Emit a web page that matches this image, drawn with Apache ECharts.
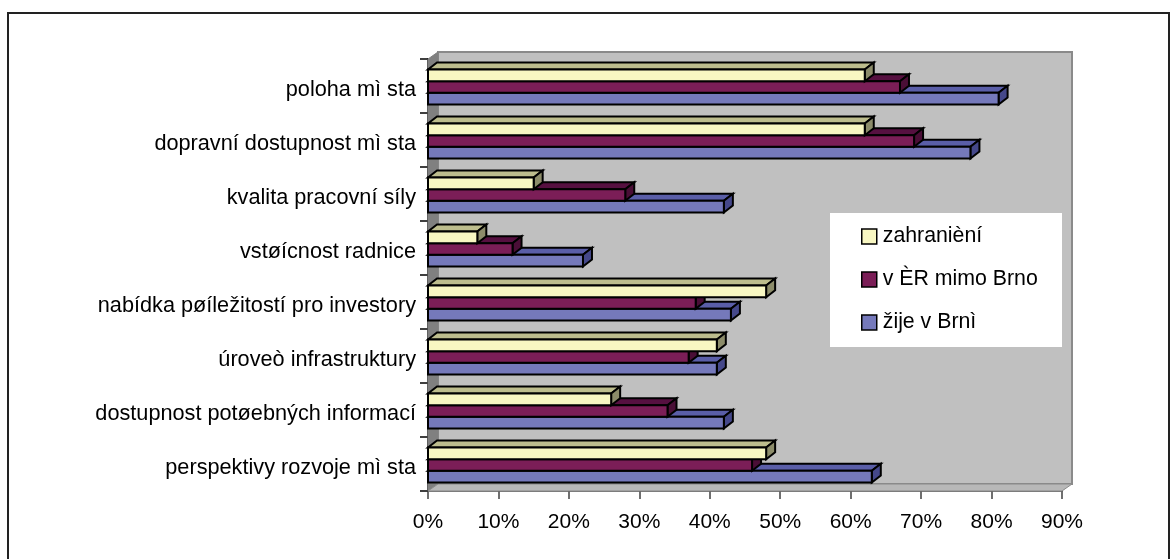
<!DOCTYPE html>
<html>
<head>
<meta charset="utf-8">
<script src="https://cdn.jsdelivr.net/npm/echarts@6/dist/echarts.min.js"></script>
<style>
  html, body { margin: 0; padding: 0; background: #fff; }
  #chart { width: 1171px; height: 559px; }
</style>
</head>
<body>
<div id="chart"></div>
<script>
// categories, top to bottom
var categories = [
    'poloha mì sta',
    'dopravní dostupnost mì sta',
    'kvalita pracovní síly',
    'vstøícnost radnice',
    'nabídka pøíležitostí pro investory',
    'úroveò infrastruktury',
    'dostupnost potøebných informací',
    'perspektivy rozvoje mì sta'
];

var seriesNames = ['zahranièní', 'v ÈR mimo Brno', 'žije v Brnì'];

// values in percent
var zahranicni = [62, 62, 15, 7, 48, 41, 26, 48];
var mimoBrno = [67, 69, 28, 12, 38, 37, 34, 46];
var vBrne = [81, 77, 42, 22, 43, 41, 42, 63];

var xTicks = [0, 10, 20, 30, 40, 50, 60, 70, 80, 90];

// front / top / side colours for each series
var faces = [
    { front: '#f8f7c2', top: '#bdbd8d', side: '#8c8c6a' },
    { front: '#7b1e57', top: '#561040', side: '#4a0e36' },
    { front: '#7579bb', top: '#5a5ea8', side: '#45488a' }
];

var FONT = "'Liberation Sans', Arial, sans-serif";
var DX = 9, DY = -7;

var chart = echarts.init(document.getElementById('chart'));

// draws one 3d bar; slot = position inside the category band (0 = top)
function barRenderer(slot, c) {
    return function (params, api) {
        var cat = api.value(1);
        var val = api.value(0);
        var base = api.coord([0, cat]);
        var end = api.coord([val, cat]);
        var band = api.size([0, 1])[1];
        var h = band * 0.215;
        var top = base[1] - 1.5 * h + 1 + slot * h;
        var x0 = base[0], x1 = end[0];
        var line = { stroke: '#000', lineWidth: 2, lineJoin: 'miter' };
        return {
            type: 'group',
            children: [
                {
                    type: 'polygon',
                    shape: { points: [[x0, top], [x0 + DX, top + DY], [x1 + DX, top + DY], [x1, top]] },
                    style: Object.assign({ fill: c.top }, line)
                },
                {
                    type: 'polygon',
                    shape: { points: [[x1, top], [x1 + DX, top + DY], [x1 + DX, top + h + DY], [x1, top + h]] },
                    style: Object.assign({ fill: c.side }, line)
                },
                {
                    type: 'rect',
                    shape: { x: x0, y: top, width: x1 - x0, height: h },
                    style: Object.assign({ fill: c.front }, line)
                }
            ]
        };
    };
}

// back wall, left wall and floor of the 3d plot area
function wallRenderer(params, api) {
    var cs = params.coordSys;
    var L = cs.x, T = cs.y, R = cs.x + cs.width, B = cs.y + cs.height;
    var wx = 10, wy = -7;
    return {
        type: 'group',
        children: [
            {
                type: 'rect',
                shape: { x: L + wx, y: T + wy, width: R - L, height: B - T },
                style: { fill: '#c0c0c0', stroke: '#8a8a8a', lineWidth: 2 }
            },
            {
                type: 'polygon',
                shape: { points: [[L, T], [L + wx, T + wy], [L + wx, B + wy], [L, B]] },
                style: { fill: '#808080', stroke: '#808080', lineWidth: 1 }
            },
            {
                type: 'polygon',
                shape: { points: [[L, B], [L + wx, B + wy], [R + wx, B + wy], [R, B]] },
                style: { fill: '#b8b8b8', stroke: '#8a8a8a', lineWidth: 1 }
            }
        ]
    };
}

function toData(vals) {
    return vals.map(function (v, i) { return [v, i]; });
}

var allValues = [zahranicni, mimoBrno, vBrne];

var series = [{
    type: 'custom',
    name: 'walls',
    renderItem: wallRenderer,
    data: [[0, 0]],
    silent: true,
    clip: false,
    z: 1
}];

// draw blue first, yellow last so upper bars cover the lower ones
for (var s = 2; s >= 0; s--) {
    series.push({
        type: 'custom',
        name: seriesNames[s],
        renderItem: barRenderer(s, faces[s]),
        itemStyle: { color: faces[s].front },
        data: toData(allValues[s]),
        clip: false,
        z: 5 + (2 - s)
    });
}

var option = {
    backgroundColor: '#fff',
    animation: false,
    textStyle: { fontFamily: FONT },
    grid: { left: 428, right: 109, top: 59, bottom: 68 },
    xAxis: {
        type: 'value',
        min: xTicks[0],
        max: xTicks[xTicks.length - 1],
        interval: 10,
        splitLine: { show: false },
        axisLine: { show: true, lineStyle: { color: '#404040', width: 1.5 } },
        axisTick: { show: true, length: 8, lineStyle: { color: '#404040', width: 1.5 } },
        axisLabel: {
            formatter: function (v) { return '{t|' + v + '%}'; },
            rich: { t: { color: '#000', fontSize: 21, fontFamily: FONT, padding: [4, 0, 0, 0] } },
            margin: 17
        }
    },
    yAxis: {
        type: 'category',
        inverse: true,
        data: categories,
        axisLine: { show: true, lineStyle: { color: '#000', width: 1.5 } },
        axisTick: { show: true, length: 8, lineStyle: { color: '#000', width: 1.5 } },
        axisLabel: {
            formatter: function (v) { return '{c|' + v + '}'; },
            rich: { c: { color: '#000', fontSize: 21.7, fontFamily: FONT, padding: [8, 0, 0, 0] } },
            margin: 12
        }
    },
    legend: {
        data: seriesNames,
        orient: 'vertical',
        left: 861,
        top: 226,
        itemWidth: 15,
        itemHeight: 15,
        itemGap: 22,
        icon: 'rect',
        padding: 0,
        itemStyle: { borderColor: '#000', borderWidth: 1.5 },
        textStyle: { color: '#000', fontSize: 21.3, fontFamily: FONT, padding: [0, 0, 0, 1] },
        z: 20
    },
    graphic: [
        // outer frame
        {
            type: 'rect',
            shape: { x: 8, y: 13, width: 1161, height: 600 },
            style: { fill: null, stroke: '#222', lineWidth: 2 },
            z: 100
        },
        // legend box
        {
            type: 'rect',
            shape: { x: 830, y: 213, width: 232, height: 134 },
            style: { fill: '#fff' },
            z: 15
        }
    ],
    series: series
};

chart.setOption(option);
</script>
</body>
</html>
